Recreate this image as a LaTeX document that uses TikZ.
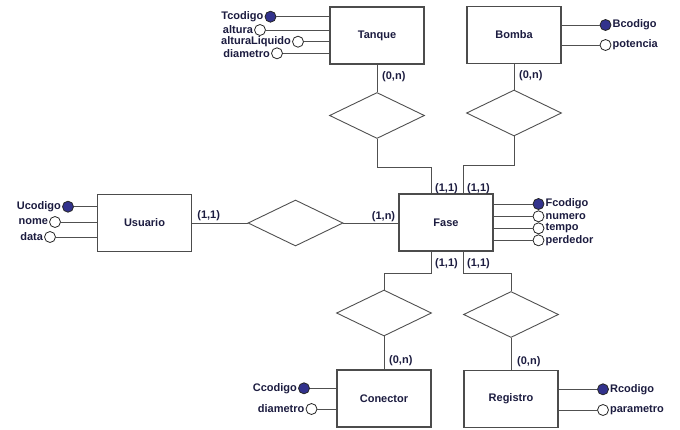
\documentclass[tikz,border=0pt]{standalone}
\usepackage{fontspec}
\setmainfont{Liberation Sans}
\usetikzlibrary{shapes.geometric,positioning,calc}
\definecolor{ink}{RGB}{28,28,64}
\definecolor{keyblue}{RGB}{50,50,140}
\definecolor{linegray}{RGB}{80,80,80}

\begin{document}
\begin{tikzpicture}[
    x=1pt, y=-1pt,
    ent/.style={draw=black!70, line width=1.3pt, fill=white, minimum width=94pt, minimum height=57pt, font=\bfseries\fontsize{11}{13}\selectfont, text=ink},
    rel/.style={draw=linegray, line width=0.9pt, diamond, aspect=2, minimum width=95pt, minimum height=46pt, inner sep=0pt},
    attr/.style={circle, draw=black!85, fill=white, minimum size=11pt, inner sep=0pt, line width=0.8pt},
    key/.style={attr, fill=keyblue},
    lbl/.style={font=\bfseries\fontsize{11}{13}\selectfont, text=ink, inner sep=1pt},
    conn/.style={draw=linegray, line width=1pt}
]
\useasboundingbox (0,0) rectangle (680,429);

% --- Entities ---
\node[ent] (tanque)   at (377, 35.5)  {Tanque};
\node[ent] (bomba)    at (514, 35)    {Bomba};
\node[ent] (usuario)  at (144.5, 223) {Usuario};
\node[ent] (fase)     at (446, 222.5) {Fase};
\node[ent] (conector) at (384, 398.5) {Conector};
\node[ent] (registro) at (511, 399)   {Registro};

% --- Relationships ---
\node[rel] (rtan) at (377, 115.5) {};
\node[rel] (rbom) at (514, 113)   {};
\node[rel] (rusu) at (295.5, 223) {};
\node[rel] (rcon) at (384, 313)   {};
\node[rel] (rreg) at (511, 314.5) {};

% --- Attributes: Tanque ---
\node[key]  (tcod) at (270.5, 16.7) [label={[lbl]left:Tcodigo}] {};
\node[attr] (talt) at (260, 30)     [label={[lbl]left:altura}] {};
\node[attr] (tliq) at (298, 41.7)   [label={[lbl]left:alturaLiquido}] {};
\node[attr] (tdia) at (277, 53.3)   [label={[lbl]left:diametro}] {};
\foreach \a in {tcod,talt,tliq,tdia}
    \draw[conn] (\a) -- (tanque.west |- \a);

% --- Attributes: Bomba ---
\node[key]  (bcod) at (605.5, 25) [label={[lbl]right:Bcodigo}] {};
\node[attr] (bpot) at (605.5, 45) [label={[lbl]right:potencia}] {};
\foreach \a in {bcod,bpot}
    \draw[conn] (\a) -- (bomba.east |- \a);

% --- Attributes: Usuario ---
\node[key]  (ucod) at (68, 206.7) [label={[lbl]left:Ucodigo}] {};
\node[attr] (unom) at (55, 222)   [label={[lbl]left:nome}] {};
\node[attr] (udat) at (50, 237)   [label={[lbl]left:data}] {};
\foreach \a in {ucod,unom,udat}
    \draw[conn] (\a) -- (usuario.west |- \a);

% --- Attributes: Fase ---
\node[key]  (fcod) at (538.5, 204)   [label={[lbl]right:Fcodigo}] {};
\node[attr] (fnum) at (538.5, 216.3) [label={[lbl]right:numero}] {};
\node[attr] (ftem) at (538.5, 228.3) [label={[lbl]right:tempo}] {};
\node[attr] (fper) at (538.5, 240.3) [label={[lbl]right:perdedor}] {};
\foreach \a in {fcod,fnum,ftem,fper}
    \draw[conn] (\a) -- (fase.east |- \a);

% --- Attributes: Conector ---
\node[key]  (ccod) at (304, 388.3) [label={[lbl]left:Ccodigo}] {};
\node[attr] (cdia) at (311.5, 409) [label={[lbl]left:diametro}] {};
\foreach \a in {ccod,cdia}
    \draw[conn] (\a) -- (conector.west |- \a);

% --- Attributes: Registro ---
\node[key]  (rcod) at (603, 389.3) [label={[lbl]right:Rcodigo}] {};
\node[attr] (rpar) at (603, 410)   [label={[lbl]right:parametro}] {};
\foreach \a in {rcod,rpar}
    \draw[conn] (\a) -- (registro.east |- \a);

% === Relationship lines ===
\draw[conn] (tanque) -- (rtan);
\draw[conn] (rtan.south) -- ++(0,29) -| ([xshift=-15pt]fase.north);
\draw[conn] (bomba) -- (rbom);
\draw[conn] (rbom.south) -- ++(0,29) -| ([xshift=17pt]fase.north);
\draw[conn] (usuario) -- (rusu);
\draw[conn] (rusu) -- (fase.west |- rusu);
\draw[conn] ([xshift=-15pt]fase.south) -- ++(0,22) -| (rcon.north);
\draw[conn] (rcon) -- (conector);
\draw[conn] ([xshift=17pt]fase.south) -- ++(0,22) -| (rreg.north);
\draw[conn] (rreg) -- (registro);

% === Cardinalities ===
\node[lbl, anchor=north west] (ctan) at ([shift={(4,6)}]tanque.south) {(0,n)};
\node[lbl, anchor=north west] (cbom) at ([shift={(4,5)}]bomba.south) {(0,n)};
\node[lbl, anchor=south west] (cusu) at ([shift={(4,-1)}]usuario.east) {(1,1)};
\node[lbl, anchor=south east] (cfus) at ([shift={(-2,0)}]fase.west) {(1,n)};
\node[lbl, anchor=south west] (cft)  at ([shift={(-12,2)}]fase.north) {(1,1)};
\node[lbl, anchor=south west] (cfb)  at ([shift={(20,2)}]fase.north) {(1,1)};
\node[lbl, anchor=north west] (cfc)  at ([shift={(-12,6)}]fase.south) {(1,1)};
\node[lbl, anchor=north west] (cfr)  at ([shift={(20,6)}]fase.south) {(1,1)};
\node[lbl, anchor=south west] (ccon) at ([shift={(4,-2)}]conector.north) {(0,n)};
\node[lbl, anchor=south west] (creg) at ([shift={(5,-2)}]registro.north) {(0,n)};
\end{tikzpicture}
\end{document}
